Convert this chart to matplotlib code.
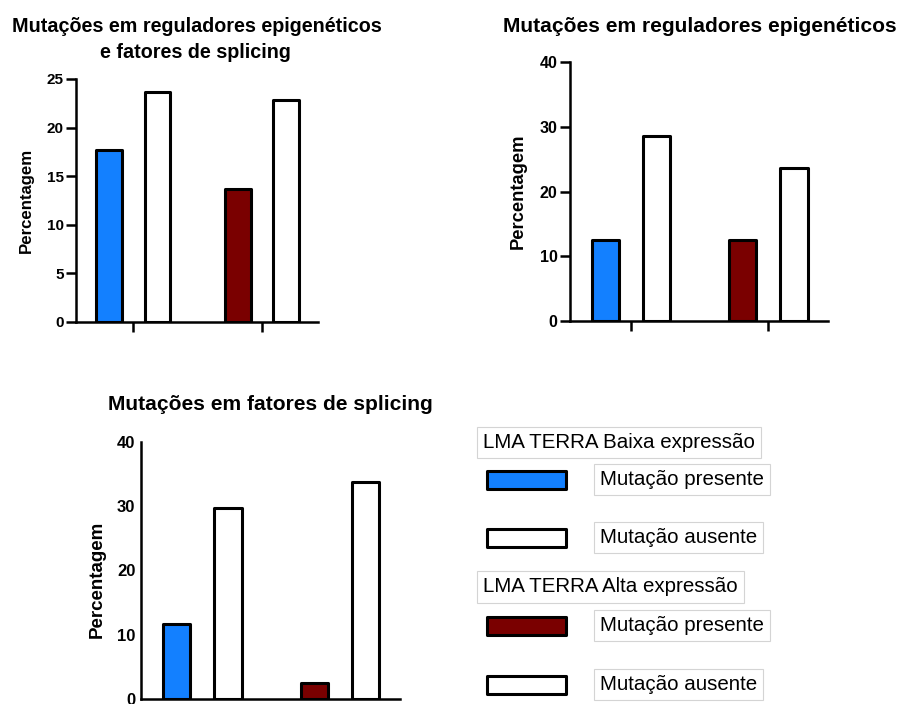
import matplotlib.pyplot as plt
from matplotlib.patches import Rectangle

# Percentagem de pacientes por grupo de expressão de TERRA
grupos = ['Baixa expressão', 'Alta expressão']
epi_splicing_presente = [17.7, 13.7]
epi_splicing_ausente = [23.7, 22.8]
epi_presente = [12.5, 12.5]
epi_ausente = [28.6, 23.6]
splicing_presente = [11.6, 2.5]
splicing_ausente = [29.7, 33.7]

cores_presente = ['#1380ff', '#7a0000']
cor_ausente = 'white'

W, H = 900, 704
fig = plt.figure(figsize=(W / 100, H / 100), dpi=100)

FONTE = 'Liberation Sans'
EDGE = 2.2


def px_axes(left, top, right, bottom):
    return fig.add_axes([left / W, 1 - bottom / H, (right - left) / W, (bottom - top) / H])


def fig_text(x, y, s, **kw):
    return fig.text(x / W, 1 - y / H, s, **kw)


def barras(ax, presente, ausente, ymax, step, tick_len=7, tick_size=11):
    pos = range(len(grupos))
    off, width = 0.187, 0.198
    for i in pos:
        ax.bar(i - off, presente[i], width, color=cores_presente[i], edgecolor='black',
               linewidth=EDGE, joinstyle='round', zorder=3)
        ax.bar(i + off, ausente[i], width, color=cor_ausente, edgecolor='black',
               linewidth=EDGE, joinstyle='round', zorder=3)
    ax.set_xlim(-0.445, 1.435)
    ax.set_ylim(0, ymax)
    ax.set_yticks(range(0, ymax + 1, step))
    ax.set_xticks(list(pos))
    ax.set_xticklabels([])
    for s in ['top', 'right']:
        ax.spines[s].set_visible(False)
    for s in ['left', 'bottom']:
        ax.spines[s].set_linewidth(1.8)
    ax.tick_params(axis='both', width=1.8, length=tick_len, direction='out')
    ax.tick_params(axis='y', pad=2)
    ax.patch.set_alpha(0)
    for lab in ax.get_yticklabels():
        lab.set_fontfamily(FONTE)
        lab.set_fontweight('bold')
        lab.set_fontsize(tick_size)


def titulo(x, y, s, size):
    fig_text(x, y, s, ha='center', va='center', family=FONTE, weight='bold', size=size)


def rotulo_y(x, y, size):
    fig_text(x, y, 'Percentagem', rotation=90, ha='center', va='center',
             family=FONTE, weight='bold', size=size)


# painel 1
ax1 = px_axes(76, 79, 318, 321.7)
barras(ax1, epi_splicing_presente, epi_splicing_ausente, 25, 5)
titulo(197, 26, 'Mutações em reguladores epigenéticos', 14.2)
titulo(195, 53, 'e fatores de splicing', 14.2)
rotulo_y(26, 200, 12.1)

# painel 2
ax2 = px_axes(570, 62.3, 828, 321)
barras(ax2, epi_presente, epi_ausente, 40, 10, tick_size=11.5)
titulo(700, 26, 'Mutações em reguladores epigenéticos', 15.1)
rotulo_y(518, 191, 13.2)

# painel 3
ax3 = px_axes(141, 442, 400, 699)
barras(ax3, splicing_presente, splicing_ausente, 40, 10, tick_len=0, tick_size=12)
ax3.tick_params(axis='y', pad=4)
titulo(270, 404, 'Mutações em fatores de splicing', 15.1)
rotulo_y(97, 579, 13.5)

# legenda
caixa = dict(boxstyle='square,pad=0.3', facecolor='white', edgecolor='#d4d4d4', linewidth=0.8)
leg_font = dict(family=FONTE, size=14.8, ha='left', va='center', bbox=caixa)

entradas = [
    (442.5, 'LMA TERRA Baixa expressão', None),
    (479.5, 'Mutação presente', cores_presente[0]),
    (537.5, 'Mutação ausente', cor_ausente),
    (587, 'LMA TERRA Alta expressão', None),
    (625.5, 'Mutação presente', cores_presente[1]),
    (684.5, 'Mutação ausente', cor_ausente),
]
for y, texto, cor in entradas:
    if cor is None:
        fig_text(483, y, texto, **leg_font)
    else:
        fig_text(600, y, texto, **leg_font)
        fig.patches.append(Rectangle((486.5 / W, 1 - (y + 9) / H), 79 / W, 18 / H,
                                     transform=fig.transFigure, facecolor=cor,
                                     edgecolor='black', linewidth=EDGE, joinstyle='round'))

fig.savefig('out.png', dpi=100)
